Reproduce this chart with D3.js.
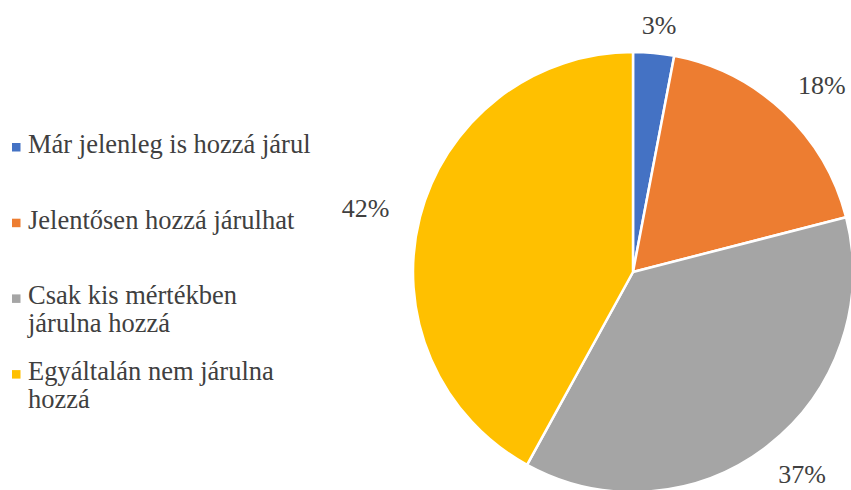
<!DOCTYPE html>
<html>
<head>
<meta charset="utf-8">
<script src="https://cdn.jsdelivr.net/npm/d3@7"></script>
<style>
  html, body { margin: 0; padding: 0; background: #fff; }
  svg { display: block; }
</style>
</head>
<body>
<svg id="chart" width="851" height="490"></svg>
<script>
// Survey answers and their shares (percent)
const categories = [
  "Már jelenleg is hozzá járul",
  "Jelentősen hozzá járulhat",
  "Csak kis mértékben járulna hozzá",
  "Egyáltalán nem járulna hozzá"
];
const values = [3, 18, 37, 42];
const colors = ["#4472C4", "#ED7D31", "#A5A5A5", "#FFC000"];

const font = "Liberation Serif";
const textColor = "#404040";

function draw() {
  const svg = d3.select("#chart");

  // Pie geometry
  const cx = 633, cy = 272, R = 220;
  const pie = d3.pie().sort(null).value(d => d)(values);
  const arc = d3.arc().innerRadius(0).outerRadius(R);

  const g = svg.append("g").attr("transform", `translate(${cx},${cy})`);
  g.selectAll("path.slice")
    .data(pie)
    .join("path")
    .attr("class", "slice")
    .attr("d", arc)
    .attr("fill", (d, i) => colors[i])
    .attr("stroke", "#fff")
    .attr("stroke-width", 2.5)
    .attr("stroke-linejoin", "round");

  // Percentage labels outside each slice; labels sit on an ellipse
  // (wider than tall) so wide text clears the rim on the sides
  const labelRx = 276, labelRy = 256;
  const fmt = v => `${v}%`;
  g.selectAll("text.pct")
    .data(pie)
    .join("text")
    .attr("class", "pct")
    .attr("text-anchor", "middle")
    .attr("dominant-baseline", "central")
    .attr("font-family", font)
    .attr("font-size", 26)
    .attr("fill", textColor)
    .text(d => fmt(d.value))
    .each(function (d) {
      const a = (d.startAngle + d.endAngle) / 2;
      const x = Math.sin(a) * labelRx;
      let y = -Math.cos(a) * labelRy;
      // keep labels inside the drawing area
      y = Math.max(y, 25 - cy);
      y = Math.min(y, 477 - cy);
      d3.select(this).attr("x", x).attr("y", y);
    });

  // Legend with word-wrapped entries
  const legend = svg.append("g");
  const legendFont = 26.5;
  const legendX = 28, legendTop = 153, legendStep = 75.7, lineH = 28, wrapW = 286;
  const measure = svg.append("text")
    .attr("font-family", font)
    .attr("font-size", legendFont).attr("visibility", "hidden");
  function wrap(str) {
    const words = str.split(" ");
    const lines = [];
    let cur = "";
    words.forEach(w => {
      const test = cur ? cur + " " + w : w;
      measure.text(test);
      if (cur && measure.node().getComputedTextLength() > wrapW) {
        lines.push(cur);
        cur = w;
      } else cur = test;
    });
    if (cur) lines.push(cur);
    return lines;
  }

  categories.forEach((c, i) => {
    const y0 = legendTop + i * legendStep;
    const item = legend.append("g");
    item.append("rect")
      .attr("x", 12).attr("y", y0 - 10)
      .attr("width", 8.5).attr("height", 8.5)
      .attr("fill", colors[i]);
    const t = item.append("text")
      .attr("font-family", font)
      .attr("font-size", legendFont)
      .attr("fill", textColor);
    wrap(c).forEach((line, j) => {
      t.append("tspan").attr("x", legendX).attr("y", y0 + j * lineH).text(line);
    });
  });
  measure.remove();
}

// make sure the serif face is ready before measuring text for wrapping
if (document.fonts && document.fonts.load) {
  document.fonts.load(`26px "${font}"`).then(draw, draw);
} else {
  draw();
}
</script>
</body>
</html>
